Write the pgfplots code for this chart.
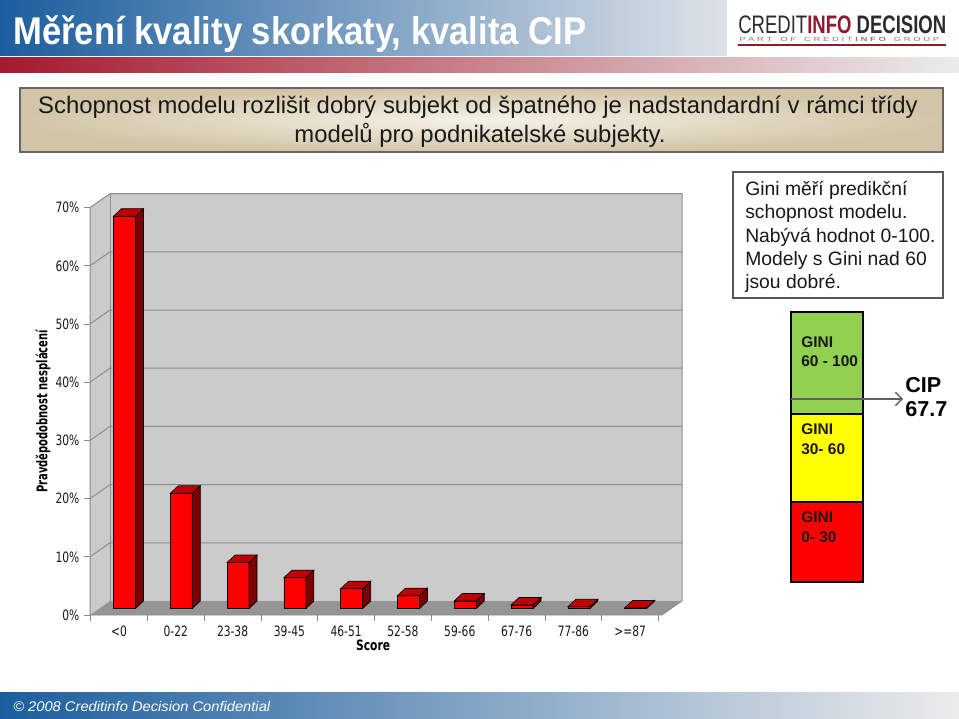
\documentclass[border=0pt]{standalone}
\usepackage{pgfplots}
\pgfplotsset{compat=1.18}
\usepackage{pgfplotstable}
\usepackage{graphicx}
\usepackage{fontspec}
\usetikzlibrary{arrows.meta}
\setmainfont{Liberation Sans}
\newfontfamily\tah[FakeStretch=0.75]{DejaVu Sans}

\definecolor{titleblue}{HTML}{1B5E9E}
\definecolor{titlemid}{HTML}{8DA8C6}
\definecolor{titlelight}{HTML}{DEE2E8}
\definecolor{barred}{HTML}{A51A2E}
\definecolor{barmid}{HTML}{D9A6AC}
\definecolor{barlight}{HTML}{ECECEC}
\definecolor{boxtan}{HTML}{D2C5A7}
\definecolor{boxcream}{HTML}{F6F2E8}
\definecolor{wall}{HTML}{CBCBCB}
\definecolor{floorc}{HTML}{959595}
\definecolor{wallline}{HTML}{8C8C8C}
\definecolor{frontred}{HTML}{FF0000}
\definecolor{topred}{HTML}{C00000}
\definecolor{sidered}{HTML}{7A0000}
\definecolor{ginigreen}{HTML}{92D050}
\definecolor{giniyellow}{HTML}{FFFF00}
\definecolor{ginired}{HTML}{FF0000}
\definecolor{logored}{HTML}{8E1B2E}
\definecolor{logogray}{HTML}{2B2B2B}

\pgfplotstableread{
i v
0 67.4
1 19.8
2 7.9
3 5.3
4 3.4
5 2.2
6 1.3
7 0.6
8 0.3
9 0.1
}\pdtable

\begin{document}
\begin{tikzpicture}[x=0.75pt,y=-0.75pt]
\useasboundingbox (0,0) rectangle (959,718);
\fill[white] (0,0) rectangle (959,718);
% title bar
\shade[left color=titleblue, middle color=titlemid, right color=titlelight] (0,0) rectangle (727,55);
\node[anchor=base west, inner sep=0, text=white] at (13,44)
  {\resizebox{429.75pt}{\height}{\fontsize{29}{30}\selectfont\bfseries Měření kvality skorkaty, kvalita CIP}};
\shade[left color=barred, middle color=barmid, right color=barlight] (0,57) rectangle (959,72);
% logo
\node[anchor=base west, inner sep=0] at (738,33)
  {\resizebox{156pt}{\height}{\fontsize{19}{20}\selectfont\color{logogray}CREDIT\textcolor{logored}{\bfseries INFO} \bfseries DECISION}};
\node[anchor=base west, inner sep=0] at (739,41)
  {\resizebox{150pt}{\height}{\fontsize{4.5}{5}\selectfont\color{gray}P A R T \ \ O F \ \ C R E D I T \textbf{I N F O} \ \ G R O U P}};
\draw[logored, line width=1.5pt] (738,45) -- (946,45);
% subtitle box
\shade[inner color=boxcream, outer color=boxtan] (20,88) rectangle (943,152);
\draw[gray!80!black, line width=1pt] (20,88) rectangle (943,152);
\node[anchor=base, inner sep=0, text=black!90] at (478,113) {\fontsize{17.9}{20}\selectfont Schopnost modelu rozlišit dobrý subjekt od špatného je nadstandardní v rámci třídy};
\node[anchor=base, inner sep=0, text=black!90] at (480,142) {\fontsize{17.9}{20}\selectfont modelů pro podnikatelské subjekty.};
% Gini box
\draw[gray!70!black, line width=1pt, fill=white] (733,172) rectangle (943,298);
\begin{scope}[every node/.style={anchor=base west, inner sep=0, text=black!90, font=\fontsize{14.5}{16}\selectfont}]
\node at (745,195) {Gini měří predikční};
\node at (745,218) {schopnost modelu.};
\node at (745,242) {Nabývá hodnot 0-100.};
\node at (745,265) {Modely s Gini nad 60};
\node at (745,288) {jsou dobré.};
\end{scope}
% Gini scale
\fill[ginigreen] (791,312) rectangle (863,414);
\fill[giniyellow] (791,414) rectangle (863,502);
\fill[ginired] (791,502) rectangle (863,582);
\draw[black, line width=1pt] (791,312) rectangle (863,582) (791,414) -- (863,414) (791,502) -- (863,502);
\begin{scope}[every node/.style={anchor=base west, inner sep=0, text=black!90, font=\fontsize{11.6}{13}\selectfont\bfseries}]
\node at (801,347) {GINI};
\node at (801,366) {60 - 100};
\node at (801,434) {GINI};
\node at (801,454) {30- 60};
\node at (801,522) {GINI};
\node at (801,542) {0- 30};
\end{scope}
\draw[gray!75!black, line width=1pt, -{Straight Barb[length=5pt,width=10pt]}] (791,399) -- (903,399);
\node[anchor=base west, inner sep=0, font=\fontsize{16.2}{18}\selectfont\bfseries] at (905,392) {CIP};
\node[anchor=base west, inner sep=0, font=\fontsize{16.2}{18}\selectfont\bfseries] at (905,416) {67.7};
% footer
\shade[left color=titleblue, middle color=titlemid, right color=barlight] (0,692) rectangle (959,718);
\node[anchor=base west, inner sep=0, text=white] at (13,711)
  {\resizebox{192.75pt}{\height}{\fontsize{10.5}{12}\selectfont\itshape © 2008 Creditinfo Decision Confidential}};
% 3D chart walls
\fill[wall] (90,615) -- (110,601) -- (110,193.6) -- (90,207.6) -- cycle;
\fill[wall] (110,601) rectangle (682,193.6);
\foreach \k in {1,...,6} {
  \draw[wallline, line width=0.75pt] (90,{615-58.2*\k}) -- ++(20,-14) -- (682,{601-58.2*\k});
}
\draw[wallline, line width=0.75pt] (90,615) -- (90,207.6) -- (110,193.6) -- (682,193.6) -- (682,601);
\draw[wallline, line width=0.75pt] (110,601) -- (110,193.6);
\fill[floorc] (90,615) -- (662,615) -- (682,601) -- (110,601) -- cycle;
\draw[wallline, line width=0.5pt] (90,615) -- (662,615) -- (682,601);

\begin{axis}[
  at={(67.5pt,-461.25pt)}, anchor=south west,
  x=42.6pt, y=4.365pt,
  xmin=-0.51, xmax=9.56, ymin=0, ymax=70,
  axis x line*=bottom, axis y line*=left,
  axis line style={draw=none},
  clip=false,
  xtick={0,...,9},
  xticklabels={<0,0-22,23-38,39-45,46-51,52-58,59-66,67-76,77-86,>=87},
  minor xtick={-0.5,0.5,...,9.5},
  ytick={0,10,...,70},
  yticklabels={0\%,10\%,20\%,30\%,40\%,50\%,60\%,70\%},
  tick align=outside,
  major tick length=4.5pt, minor tick length=4.5pt,
  tick style={wallline, line width=0.6pt},
  every major x tick/.append style={draw=none},
  ticklabel style={font=\tah\fontsize{10.7}{12}\selectfont, text=black!90},
  xlabel={Score},
  ylabel={\resizebox{122pt}{\height}{Pravděpodobnost nesplácení}},
  xlabel style={at={(axis description cs:0.495,-0.0736)}, anchor=center, font=\tah\bfseries\fontsize{10.7}{12}\selectfont},
  ylabel style={at={(axis description cs:-0.0822,0.5)}, anchor=center, font=\tah\bfseries\fontsize{11}{12}\selectfont},
]
% front faces of the columns
\addplot[ybar, bar width=16.5pt, bar shift=4.125pt, fill=frontred, draw=black, line width=0.5pt, yshift=4.875pt]
  table[x=i, y=v] {\pdtable};
% top and side faces, from the same values
\pgfplotsinvokeforeach{0,...,9}{
  \pgfplotstablegetelem{#1}{v}\of\pdtable
  \pgfmathsetmacro\xl{#1-0.0968}
  \pgfmathsetmacro\xlb{#1+0.0440}
  \pgfmathsetmacro\xa{#1+0.2905}
  \pgfmathsetmacro\xb{#1+0.4313}
  \pgfmathsetmacro\yf{\pgfplotsretval+1.1168}
  \pgfmathsetmacro\yb{\pgfplotsretval+2.4055}
  \edef\temp{\noexpand\addplot[fill=sidered, draw=black, line width=0.5pt] coordinates {(\xa,\yf) (\xb,\yb) (\xb,2.4055) (\xa,1.1168)} -- cycle;
    \noexpand\addplot[fill=topred, draw=black, line width=0.5pt] coordinates {(\xl,\yf) (\xa,\yf) (\xb,\yb) (\xlb,\yb)} -- cycle;}
  \temp
}
\end{axis}
\end{tikzpicture}
\end{document}
